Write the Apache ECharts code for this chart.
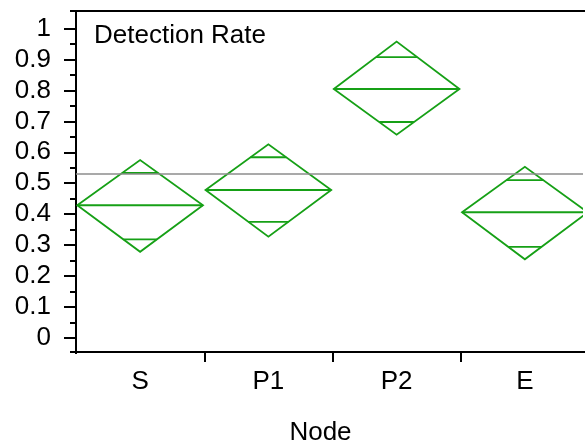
<!DOCTYPE html>
<html>
<head>
<meta charset="utf-8">
<script src="https://cdn.jsdelivr.net/npm/echarts@6/dist/echarts.min.js"></script>
<style>
html,body{margin:0;padding:0;background:#fff;overflow:hidden;}
#chart{width:585px;height:443px;}
</style>
</head>
<body>
<div id="chart"></div>
<script>
// ---- data ----
var categories = ['S', 'P1', 'P2', 'E'];
var means      = [0.429, 0.478, 0.805, 0.406];
var ciLower    = [0.278, 0.327, 0.657, 0.254];
var ciUpper    = [0.575, 0.626, 0.958, 0.553];
var overlapLow = [0.318, 0.375, 0.698, 0.294];
var overlapHigh= [0.533, 0.584, 0.908, 0.510];
var grandMean  = 0.529;
var yTicks     = [0, 0.1, 0.2, 0.3, 0.4, 0.5, 0.6, 0.7, 0.8, 0.9, 1];
var yMinorTicks= [0.05, 0.15, 0.25, 0.35, 0.45, 0.55, 0.65, 0.75, 0.85, 0.95];
var yMin = -0.046, yMax = 1.057;

var FONT = "'Liberation Sans', Arial, sans-serif";
var GREEN = '#16a016';

var seriesData = categories.map(function (c, i) {
  return [i, means[i], ciLower[i], ciUpper[i], overlapLow[i], overlapHigh[i]];
});

function renderDiamond(params, api) {
  var i = api.value(0);
  var c = api.coord([i, api.value(1)]);
  var top = api.coord([i, api.value(3)]);
  var bot = api.coord([i, api.value(2)]);
  var oLo = api.coord([i, api.value(4)]);
  var oHi = api.coord([i, api.value(5)]);
  var hw = api.size([1, 0])[0] * 0.49;
  var style = { stroke: GREEN, lineWidth: 1.8, fill: null };
  var wHi = hw * (oHi[1] - top[1]) / (c[1] - top[1]);
  var wLo = hw * (bot[1] - oLo[1]) / (bot[1] - c[1]);
  return {
    type: 'group',
    children: [
      { type: 'polygon', shape: { points: [[c[0] - hw, c[1]], [c[0], top[1]], [c[0] + hw, c[1]], [c[0], bot[1]]] }, style: style },
      { type: 'line', shape: { x1: c[0] - hw, y1: c[1], x2: c[0] + hw, y2: c[1] }, style: { stroke: GREEN, lineWidth: 2 } },
      { type: 'line', shape: { x1: c[0] - wHi, y1: oHi[1], x2: c[0] + wHi, y2: oHi[1] }, style: { stroke: GREEN, lineWidth: 1.8 } },
      { type: 'line', shape: { x1: c[0] - wLo, y1: oLo[1], x2: c[0] + wLo, y2: oLo[1] }, style: { stroke: GREEN, lineWidth: 1.8 } }
    ]
  };
}

var chart = echarts.init(document.getElementById('chart'), null, { renderer: 'canvas' });
chart.setOption({
  animation: false,
  backgroundColor: '#fff',
  title: {
    text: 'Detection Rate', left: 94, top: 23,
    textStyle: { fontFamily: FONT, fontSize: 26, fontWeight: 'normal', color: '#000' },
    padding: 0
  },
  grid: {
    left: 76, width: 513, top: 11, height: 341,
    outerBoundsMode: 'none',
    containLabel: false,
    show: false
  },
  graphic: [{
    type: 'rect', z: 100, silent: true,
    shape: { x: 583, y: 13, width: 3, height: 337 },
    style: { fill: '#fff' }
  }, {
    type: 'rect', z: 100, silent: true,
    shape: { x: 73, y: 354, width: 6, height: 10 },
    style: { fill: '#fff' }
  }],
  xAxis: [{
    type: 'category',
    data: categories,
    boundaryGap: true,
    name: 'Node',
    nameLocation: 'middle',
    nameGap: 68,
    nameTextStyle: { fontFamily: FONT, fontSize: 26, color: '#000', padding: [0, 24, 0, 0] },
    axisLine: { onZero: false, lineStyle: { color: '#000', width: 2 } },
    axisTick: { show: true, length: 10, interval: 0, lineStyle: { color: '#000', width: 2 } },
    axisLabel: { fontFamily: FONT, fontSize: 26, color: '#000', margin: 17 },
    splitLine: { show: false }
  }, {
    type: 'category',
    data: categories,
    position: 'top',
    axisLine: { show: true, onZero: false, lineStyle: { color: '#000', width: 2 } },
    axisTick: { show: false },
    axisLabel: { show: false },
    splitLine: { show: false }
  }],
  yAxis: [{
    type: 'value',
    min: yMin, max: yMax,
    axisLine: { show: true, onZero: false, lineStyle: { color: '#000', width: 2 } },
    axisTick: { show: true, length: 12, lineStyle: { color: '#000', width: 2 }, customValues: yTicks },
    axisLabel: { fontFamily: FONT, fontSize: 26, color: '#000', margin: 25, customValues: yTicks },
    splitLine: { show: false }
  }, {
    type: 'value',
    min: yMin, max: yMax,
    position: 'left',
    offset: 0,
    axisLine: { show: false, onZero: false },
    axisTick: { show: true, length: 6, lineStyle: { color: '#000', width: 2 }, customValues: yMinorTicks.concat([yMin, yMax]) },
    axisLabel: { show: false },
    splitLine: { show: false }
  }],
  series: [{
    type: 'custom',
    renderItem: renderDiamond,
    data: seriesData,
    encode: { x: 0, y: [1, 2, 3] },
    clip: false,
    silent: true,
    markLine: {
      silent: true,
      symbol: 'none',
      label: { show: false },
      lineStyle: { color: '#8c8c8c', width: 1.6, type: 'solid' },
      data: [{ yAxis: grandMean }]
    },
    z: 3
  }]
});
</script>
</body>
</html>
